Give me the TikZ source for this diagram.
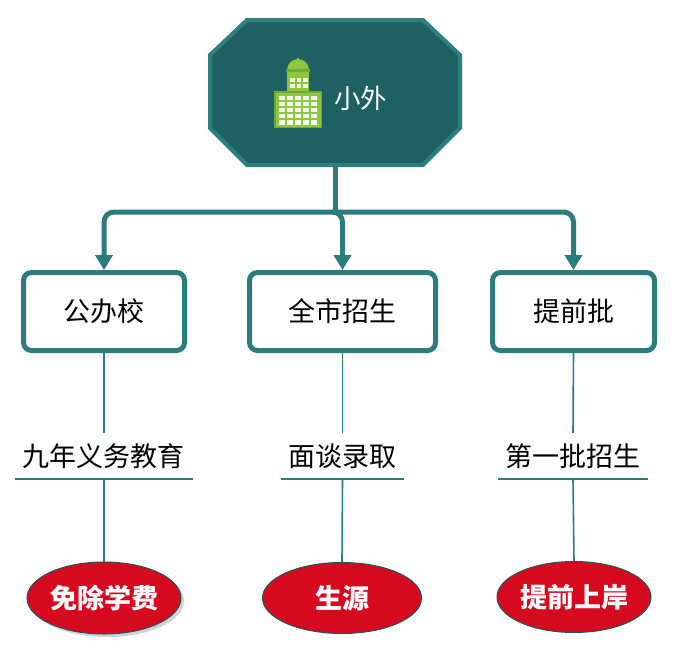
\documentclass[tikz,border=0pt]{standalone}
\usepackage{fontspec}
\setmainfont{Noto Sans CJK SC}
\newfontfamily\cjk{Noto Sans CJK SC}
\newfontfamily\cjkblack{Noto Sans CJK SC Black}
\usetikzlibrary{arrows.meta,shapes.geometric,shadows}
\definecolor{teal1}{RGB}{43,124,125}
\definecolor{topfill}{RGB}{31,96,99}
\definecolor{topedge}{RGB}{44,126,127}
\definecolor{redE}{RGB}{213,10,30}
\definecolor{greenA}{RGB}{141,198,63}
\definecolor{greenB}{RGB}{112,168,58}
\tikzset{
  boxnode/.style={draw=teal1, line width=5pt, rounded corners=8pt, fill=white,
    minimum height=78pt, inner sep=0pt, font=\cjk\fontsize{27}{27}\selectfont},
  midnode/.style={minimum height=46pt, inner sep=0pt, font=\cjk\fontsize{27}{27}\selectfont},
  ellnode/.style={ellipse, draw=teal1!70!black, line width=1pt, fill=redE, text=white,
    inner sep=0pt, font=\cjkblack\fontsize{27}{27}\selectfont},
  arrline/.style={draw=teal1, line width=5pt, rounded corners=10pt,
    -{Triangle[width=17pt,length=15pt]}},
  thinline/.style={draw=teal1, line width=1.6pt},
}
\begin{document}
\begin{tikzpicture}[x=1pt,y=-1pt]
\useasboundingbox (0,0) rectangle (686,656);
% top octagon
\draw[fill=topfill, draw=topedge, line width=4pt]
  (247,20)--(423,20)--(460,55)--(460,128)--(423,165)--(247,165)--(210,128)--(210,55)--cycle;
\node[inner sep=0pt, minimum width=250pt, minimum height=145pt] (top) at (335,92.5) {};
\node[anchor=west, text=white, inner sep=0pt, font=\cjk\fontsize{26.5}{26.5}\selectfont] (toplabel) at (334,98) {小外};
% building icon
\fill[greenA] (296.5,58) rectangle (298.5,64);
\fill[greenA] (287,70) arc[start angle=180, end angle=360, radius=11] -- cycle;
\fill[greenB] (286,69) rectangle (310,72);
\fill[greenA] (287,72) rectangle (309,92);
\fill[greenB] (274,91) rectangle (322,128);
\fill[greenA] (275.5,92.5) rectangle (320.5,126.5);
\foreach \i in {0,1,2}{
  \fill[white!92!greenA] ({290+\i*6.5},78) rectangle ({294.5+\i*6.5},82);
  \fill[white!92!greenA] ({290+\i*6.5},84) rectangle ({294.5+\i*6.5},88);
}
\foreach \i in {0,...,4}{
  \foreach \j in {0,...,4}{
    \fill[white!92!greenA] ({278.5+\i*8.2},{95.5+\j*6.2}) rectangle ({284.5+\i*8.2},{99.8+\j*6.2});
  }
}
% boxes
\node[boxnode, minimum width=161pt] (b1) at (104,311.5) {公办校};
\node[boxnode, minimum width=186pt] (b2) at (342.5,311.5) {全市招生};
\node[boxnode, minimum width=162pt] (b3) at (573.5,311.5) {提前批};
% arrows
\coordinate (split) at (335,212);
\draw[draw=teal1, line width=5pt] (top.south) -- (split);
\draw[arrline] (split) -| (b1.north);
\draw[arrline] (split) -| (b2.north);
\draw[arrline] (split) -| (b3.north);
% middle labels
\node[midnode, minimum width=178pt] (m1) at (104,456) {九年义务教育};
\node[midnode, minimum width=123pt] (m2) at (342.5,456) {面谈录取};
\node[midnode, minimum width=150pt] (m3) at (573,456) {第一批招生};
\foreach \m in {m1,m2,m3}{\draw[thinline] (\m.south west) -- (\m.south east);}
% ellipses
\node[ellnode, minimum width=154pt, minimum height=72pt,
  drop shadow={shadow xshift=3pt, shadow yshift=-3pt, fill=black!35}] (e1) at (104,598) {免除学费};
\node[ellnode, minimum width=159pt, minimum height=71pt] (e2) at (342,598) {生源};
\node[ellnode, minimum width=154pt, minimum height=71pt] (e3) at (574,597) {提前上岸};
% thin connectors
\draw[thinline] (b1.south) -- (m1.north);
\draw[thinline] (b2.south) -- (m2.north);
\draw[thinline] (b3.south) -- (m3.north);
\draw[thinline] (m1.south) -- (e1.north);
\draw[thinline] (m2.south) -- (e2.north);
\draw[thinline] (m3.south) -- (e3.north);
\end{tikzpicture}
\end{document}
